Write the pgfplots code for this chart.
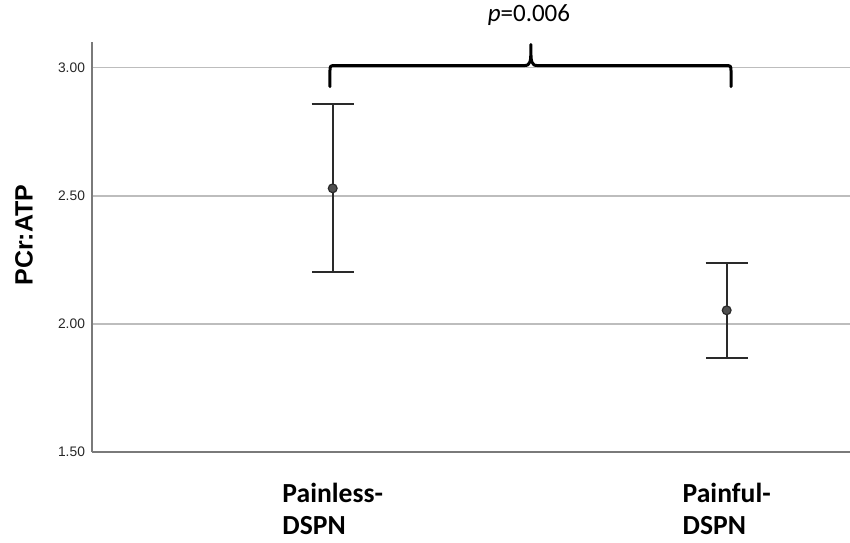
\documentclass[border=0pt]{standalone}
\usepackage{pgfplots}
\pgfplotsset{compat=1.18}
\usepackage{fontspec}
\setmainfont{Carlito}
\newfontfamily\arial{Liberation Sans}
\definecolor{gridc}{HTML}{BDBDBD}
\definecolor{axc}{HTML}{7A7A7A}
\definecolor{barc}{HTML}{2A2A2A}
\definecolor{markc}{HTML}{505050}
\begin{document}
\begin{tikzpicture}
\useasboundingbox (-46pt,-45pt) rectangle (379pt,226pt);
\begin{axis}[
  scale only axis,
  width=379pt, height=205pt,
  xmin=0.389, xmax=2.313,
  ymin=1.5, ymax=3.1,
  axis x line*=bottom, axis y line*=left,
  axis line style={-, axc, line width=1.1pt},
  ytick={1.5,2,2.5,3},
  yticklabel style={/pgf/number format/fixed, /pgf/number format/fixed zerofill, /pgf/number format/precision=2, /pgf/number format/assume math mode=true, font=\arial\fontsize{6.9}{8}\selectfont, text=black!85},
  ymajorgrids, grid style={gridc, line width=0.8pt},
  major tick length=0pt,
  xtick={1,2},
  xticklabels={{Painless-\\DSPN},{Painful-\\DSPN}},
  xticklabel style={align=left, font=\bfseries\fontsize{13.8}{16}\selectfont, yshift=-12pt},
  ylabel={PCr:ATP},
  ylabel style={at={(axis description cs:-0.0897,0.529)}, anchor=center, font=\arial\bfseries\fontsize{12.5}{14}\selectfont},
  clip=false,
]
\addplot[only marks, mark=*, mark size=2.2pt, mark options={fill=markc, draw=barc, line width=0.6pt},
  error bars/.cd, y dir=both, y explicit,
  error bar style={barc, line width=1pt},
  error mark options={rotate=90, barc, line width=1pt, mark size=10.5pt}]
  table[x=x, y=y, y error plus=ep, y error minus=em] {
x y ep em
1 2.529 0.328 0.326
2 2.053 0.185 0.187
};
\draw[black, line width=1.5pt, line cap=round, line join=round]
  (axis cs:0.993,2.926) -- (axis cs:0.993,2.985)
  .. controls (axis cs:0.993,3.008) .. (axis cs:1.008,3.008)
  -- (axis cs:1.485,3.008)
  .. controls (axis cs:1.503,3.008) and (axis cs:1.503,3.02) .. (axis cs:1.503,3.09)
  .. controls (axis cs:1.503,3.02) and (axis cs:1.503,3.008) .. (axis cs:1.521,3.008)
  -- (axis cs:1.996,3.008)
  .. controls (axis cs:2.011,3.008) .. (axis cs:2.011,2.985)
  -- (axis cs:2.011,2.926);
\node[anchor=base, font=\fontsize{12.5}{14}\selectfont] at (axis cs:1.498,3.18) {\textit{p}=0.006};
\end{axis}
\end{tikzpicture}
\end{document}
